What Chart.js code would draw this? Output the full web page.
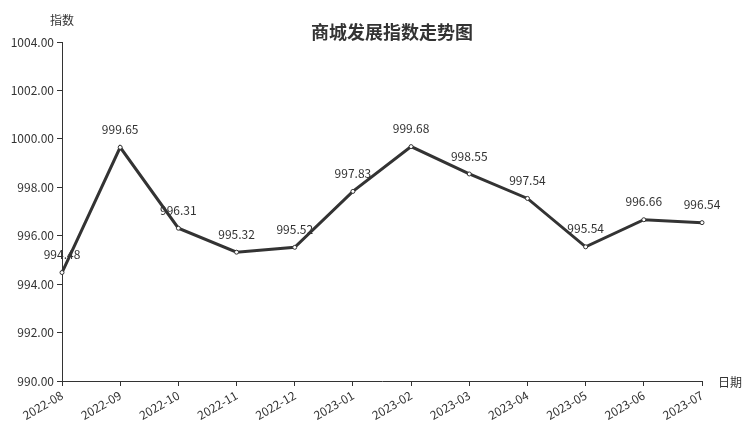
<!DOCTYPE html>
<html>
<head>
<meta charset="utf-8">
<script src="https://cdn.jsdelivr.net/npm/chart.js@4/dist/chart.umd.min.js"></script>
<style>
  html, body { margin: 0; padding: 0; background: #fff; }
  #wrap { width: 752px; height: 427px; position: relative; }
</style>
</head>
<body>
<div id="wrap"><canvas id="chart"></canvas></div>
<script>
const months = ['2022-08', '2022-09', '2022-10', '2022-11', '2022-12', '2023-01',
  '2023-02', '2023-03', '2023-04', '2023-05', '2023-06', '2023-07']
const indexValues = [994.48, 999.65, 996.31, 995.32, 995.52, 997.83,
  999.68, 998.55, 997.54, 995.54, 996.66, 996.54]
const yMin = 990
const yMax = 1004
const yStep = 2

const FONT = '"Noto Sans CJK SC", "Noto Sans", sans-serif'
const INK = '#333'

// title, axis names and value labels
const extras = {
  id: 'extras',
  afterDatasetsDraw(chart) {
    const { ctx, chartArea, scales } = chart
    ctx.save()
    ctx.fillStyle = INK
    ctx.textAlign = 'center'
    ctx.textBaseline = 'middle'
    ctx.font = 'bold 18px ' + FONT
    ctx.fillText('商城发展指数走势图', 392, 32)

    ctx.font = '12px ' + FONT
    ctx.fillText('指数', chartArea.left, 20)
    ctx.textAlign = 'left'
    ctx.fillText('日期', chartArea.right + 16, chartArea.bottom + 1)

    ctx.textAlign = 'center'
    const meta = chart.getDatasetMeta(0)
    meta.data.forEach((pt, i) => {
      ctx.fillText(indexValues[i].toFixed(2), pt.x, pt.y - 18)
    })
    ctx.restore()
  }
}

new Chart(document.getElementById('chart'), {
  type: 'line',
  data: {
    labels: months,
    datasets: [{
      data: indexValues,
      borderColor: INK,
      borderWidth: 3,
      pointRadius: 2,
      pointBackgroundColor: '#fff',
      pointBorderColor: INK,
      pointBorderWidth: 1,
      tension: 0
    }]
  },
  options: {
    responsive: true,
    maintainAspectRatio: false,
    animation: false,
    layout: { padding: { top: 42, right: 50, left: 0, bottom: 0 } },
    plugins: {
      legend: { display: false },
      tooltip: { enabled: false }
    },
    scales: {
      x: {
        offset: false,
        grid: { drawOnChartArea: false, tickLength: 5, color: INK },
        border: { color: INK, width: 1 },
        ticks: {
          color: INK,
          font: { family: FONT, size: 12 },
          maxRotation: 30,
          minRotation: 30,
          padding: 2,
          autoSkip: false
        },
        afterFit(scale) { scale.height = 46 }
      },
      y: {
        min: yMin,
        max: yMax,
        grid: { drawOnChartArea: false, tickLength: 5, color: INK },
        border: { color: INK, width: 1 },
        ticks: {
          stepSize: yStep,
          color: INK,
          font: { family: FONT, size: 12 },
          padding: 3,
          callback: v => Number(v).toFixed(2)
        },
        afterFit(scale) { scale.width = 62 }
      }
    }
  },
  plugins: [extras]
})
</script>
</body>
</html>
